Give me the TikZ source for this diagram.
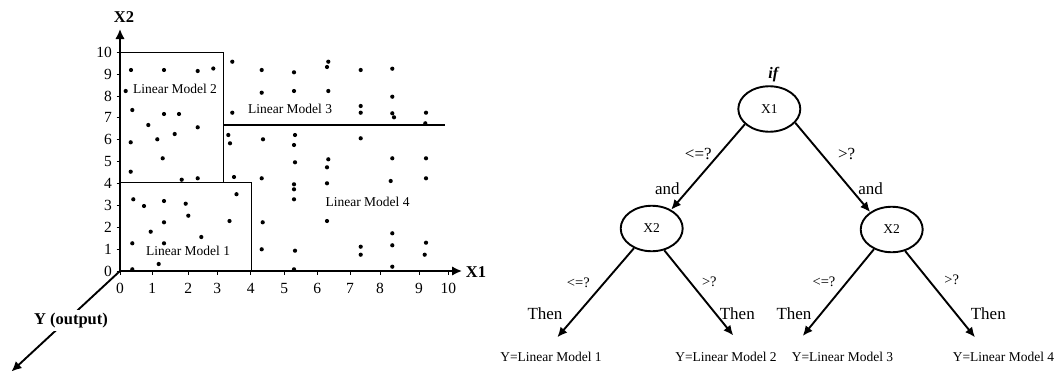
\documentclass[tikz,border=0pt]{standalone}
\usepackage{fontspec}
\setmainfont{Liberation Serif}
\usetikzlibrary{arrows.meta,shapes.geometric}

\begin{document}
\begin{tikzpicture}[x=1pt,y=-1pt,
  axis/.style={line width=1.9pt,-{Latex[length=10pt,width=9.5pt]}},
  region/.style={line width=1.1pt},
  tickmark/.style={line width=0.9pt},
  ticklbl/.style={inner sep=0pt,font=\fontsize{15.5}{15.5}\selectfont},
  modellbl/.style={inner sep=0pt,font=\fontsize{13.5}{13.5}\selectfont},
  axlbl/.style={inner sep=0pt,font=\bfseries\fontsize{16.5}{16.5}\selectfont},
  test/.style={ellipse,draw,line width=1.9pt,minimum width=62pt,minimum height=45.5pt,
               inner sep=0pt,font=\fontsize{13.5}{13.5}\selectfont},
  branch/.style={line width=1.9pt,-{Latex[length=10pt,width=9pt]}},
  cond/.style={inner sep=0pt,font=\fontsize{17}{17}\selectfont},
  condsmall/.style={inner sep=0pt,font=\fontsize{14.5}{14.5}\selectfont},
  leaf/.style={inner sep=0pt,font=\fontsize{13.5}{13.5}\selectfont},
  pt/.style={fill=black}
]
\useasboundingbox (0,0) rectangle (1056,372);

% ---------------- input space ----------------
\coordinate (O) at (120,271);
\coordinate (ytip) at (120,29);
\coordinate (xtip) at (462,271);
\coordinate (ztip) at (11.5,371.5);

% partition of the (X1,X2) plane
\draw[region] (120,182.6) rectangle (251.5,271);
\draw[region] (120,52.3) rectangle (223.5,182.6);
\coordinate (cutL) at (223.5,125);
\coordinate (cutR) at (445,125);
\draw[region] (cutL) -- (cutR);

% axes
\draw[axis] (O) -- (ytip);
\draw[axis] (O) -- (xtip);
\draw[axis] (O) -- (ztip);
\node[axlbl] (lx2) at (124,17) {X2};
\node[axlbl] (lx1) at (476,272) {X1};
\node[axlbl,fill=white,inner sep=3pt] (ly) at (71,320.5) {Y (output)};

% ticks and tick labels on the X2 axis
\foreach \k in {0,...,10}{
  \pgfmathsetmacro{\yy}{271-21.87*\k}
  \draw[tickmark] (116.5,\yy) -- (120,\yy);
  \node[ticklbl,anchor=east] at (112,\yy) {\k};
}
% ticks and tick labels on the X1 axis
\foreach \xx/\k in {120/0,152.3/1,188.3/2,217.3/3,250.7/4,284.3/5,317.3/6,350/7,380/8,419/9,448.3/10}{
  \draw[tickmark] (\xx,271) -- (\xx,275);
  \node[ticklbl] at (\xx,288.5) {\k};
}

% samples
\foreach \px/\py in {
  131/70, 164/70, 197.7/71, 213.3/68.5, 232.3/61.7,
  125.7/91, 132.3/110, 164/114, 179/114, 148.3/125, 197.7/127.3, 174.7/134,
  157.3/139.3, 130.7/142.3, 232.3/112.7, 228.3/135, 230/143.3, 162.7/158.3,
  130.7/171.7, 181.7/179.7, 197.7/178.3, 234/177, 236.5/194.2,
  261.7/70, 294/72.3, 328.3/61.7, 327/67, 360.7/70, 392.3/68.7,
  261.7/92.7, 294/91, 328.3/91, 392.3/96.7,
  360.7/106, 360.7/112.7, 392.3/113.3, 394/117.3, 426/112.7, 425.3/123.3,
  263/139.3, 295/135, 294/145, 360.7/138.3,
  295/162.3, 328.3/159.3, 327/167.3, 392.3/158.3, 426/158.3,
  261.7/178.3, 294/184.3, 294/189.3, 327/183.3, 390.7/181, 426/178.3,
  133.3/199.3, 144/206, 164/201, 185.7/203.7,
  188.3/215.7, 164/222.3, 150.7/231.7, 201.3/237, 132.3/243.3, 164/243.3,
  229.5/221, 158.7/264, 132.3/269.3,
  294/199.3, 262.7/222.3, 327/221, 261.7/249.3, 295/250.7, 294/269.3,
  360.7/246.7, 360.7/254.7, 392.3/233.3, 392.3/245.3, 392.3/266.7,
  426/242.7, 424.7/254.7}{
  \fill[pt] (\px,\py) circle[radius=2.1pt];
}

% region names
\node[modellbl] (m2) at (175,88.5) {Linear Model 2};
\node[modellbl] (m3) at (290,109.3) {Linear Model 3};
\node[modellbl] (m4) at (367.5,201.7) {Linear Model 4};
\node[modellbl] (m1) at (188,251) {Linear Model 1};

% ---------------- decision tree ----------------
\node[test] (x1) at (769.3,109) {X1};
\node[test] (x2a) at (651.7,228.5) {X2};
\node[test] (x2b) at (891.7,229.5) {X2};
\node[inner sep=0pt,font=\bfseries\itshape\fontsize{16}{16}\selectfont] (if) at (773.3,75) {if};

\draw[branch] (x1.212) -- (x2a.44);
\draw[branch] (x1.332) -- (x2b.141);
\node[cond] (c1) at (698.3,154) {<=?};
\node[cond] (c2) at (846.7,154.3) {>?};
\node[cond] (a1) at (667.3,188.3) {and};
\node[cond] (a2) at (870.7,188.3) {and};

\coordinate (t1) at (557.3,337.3);
\coordinate (t2) at (733.3,335.5);
\coordinate (t3) at (802.7,336);
\coordinate (t4) at (975,337.3);
\draw[branch] (x2a.228) -- (t1);
\draw[branch] (x2a.300) -- (t2);
\draw[branch] (x2b.228) -- (t3);
\draw[branch] (x2b.302) -- (t4);

\node[condsmall] (d1) at (578.3,282.3) {<=?};
\node[condsmall] (d2) at (709.3,281.7) {>?};
\node[condsmall] (d3) at (824,281.7) {<=?};
\node[condsmall] (d4) at (951.7,279.3) {>?};

\node[cond] (th1) at (545,313.3) {Then};
\node[cond] (th2) at (737.3,313.3) {Then};
\node[cond] (th3) at (794,313.3) {Then};
\node[cond] (th4) at (988.3,313.3) {Then};

\node[leaf] (y1) at (551,357.3) {Y=Linear Model 1};
\node[leaf] (y2) at (726,357.3) {Y=Linear Model 2};
\node[leaf] (y3) at (842.5,357.3) {Y=Linear Model 3};
\node[leaf] (y4) at (1003.5,357.3) {Y=Linear Model 4};
\end{tikzpicture}
\end{document}
